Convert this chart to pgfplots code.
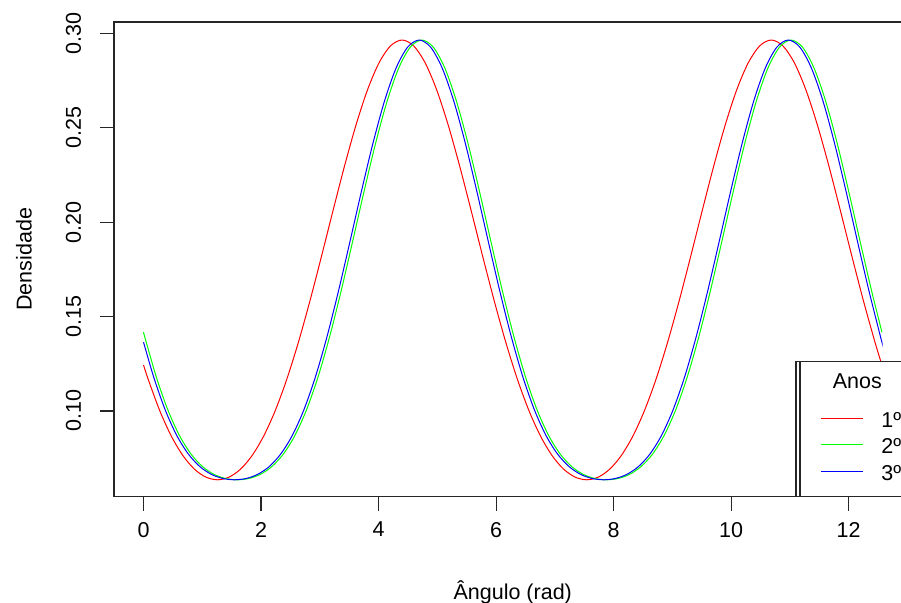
\documentclass[border=0pt]{standalone}
\usepackage{fontspec}
\setmainfont{Liberation Sans}
\usepackage{pgfplots}
\pgfplotsset{compat=1.18}
\definecolor{rred}{RGB}{255,0,0}
\definecolor{rgreen}{RGB}{0,255,0}
\definecolor{rblue}{RGB}{0,0,255}

\begin{document}
\fontsize{10.75}{12.9}\selectfont
\begin{tikzpicture}
\useasboundingbox (0,0) rectangle (450.5pt,301.5pt);
\clip (0,0) rectangle (450.5pt,301.5pt);
\begin{axis}[
  at={(57pt,53.15pt)}, anchor=south west,
  scale only axis, width=398.75pt, height=237.35pt,
  xmin=-0.5027, xmax=13.069, ymin=0.0546, ymax=0.3060,
  axis line style={black!85, line width=0.6pt},
  every tick/.style={black!85, line width=0.6pt},
  tick align=outside, major tick length=7pt,
  tick pos=left,
  xtick={0,2,4,6,8,10,12},
  ytick={0.10,0.15,0.20,0.25,0.30},
  /pgf/number format/assume math mode=true,
  yticklabel style={/pgf/number format/.cd, fixed, fixed zerofill, precision=2, /tikz/.cd,
    rotate=90, anchor=south, inner sep=0pt},
  xticklabel style={anchor=north, inner sep=0pt},
  yticklabel shift=9.25pt,
  xticklabel shift=5.5pt,
  xlabel={Ângulo (rad)},
  ylabel={Densidade},
  every axis x label/.style={at={([yshift=-51.65pt]axis description cs:0.5,0)}, anchor=base, inner sep=0pt},
  every axis y label/.style={at={([xshift=-41.15pt]axis description cs:0,0.5)}, rotate=90, anchor=base, inner sep=0pt},
  legend image code/.code={\draw[#1] (0pt,4.5pt) -- (20.85pt,4.5pt);},
  legend style={name=leg, at={(rel axis cs:0.85517,0)}, anchor=south west,
    draw=none, fill=white,
    inner xsep=12pt, inner ysep=5.95pt, row sep=5.65pt, column sep=9.15pt,
    cells={anchor=base west},
    nodes={inner sep=0pt, text height=7.7pt, text depth=0pt}},
]
\addlegendimage{empty legend}
\addlegendentry[text depth=5.75pt]{\makebox[0pt][l]{\hspace*{-12.5pt}\makebox[0pt]{Anos}}}

% 1º ano
\addplot[color=rred, line width=0.5pt, smooth] coordinates {
(0,0.1243) (0.08031,0.116658) (0.27666,0.100094) (0.47301,0.086657) (0.66936,0.076385)
(0.86571,0.069192) (1.06206,0.064951) (1.25841,0.06355) (1.45476,0.064951) (1.65111,0.069192)
(1.84746,0.076385) (2.04381,0.086657) (2.24016,0.100094) (2.43650,0.116658) (2.63285,0.136119)
(2.82920,0.158) (3.02555,0.181555) (3.22190,0.205786) (3.41825,0.229486) (3.61460,0.251343)
(3.81095,0.270035) (4.00730,0.284364) (4.20365,0.293375) (4.40000,0.29645) (4.59635,0.293375)
(4.79270,0.284364) (4.98905,0.270035) (5.18540,0.251343) (5.38175,0.229486) (5.57810,0.205786)
(5.77445,0.181555) (5.97080,0.158) (6.16715,0.136119) (6.36350,0.116658) (6.55984,0.100094)
(6.75619,0.086657) (6.95254,0.076385) (7.14889,0.069192) (7.34524,0.064951) (7.54159,0.06355)
(7.73794,0.064951) (7.93429,0.069192) (8.13064,0.076385) (8.32699,0.086657) (8.52334,0.100094)
(8.71969,0.116658) (8.91604,0.136119) (9.11239,0.158) (9.30874,0.181555) (9.50509,0.205786)
(9.70144,0.229486) (9.89779,0.251343) (10.09414,0.270035) (10.29049,0.284364) (10.48684,0.293375)
(10.68319,0.29645) (10.87953,0.293375) (11.07588,0.284364) (11.27223,0.270035) (11.46858,0.251343)
(11.66493,0.229486) (11.86128,0.205786) (12.05763,0.181555) (12.25398,0.158) (12.45033,0.136119)
(12.56637,0.1243)
};
\addlegendentry{\makebox[14pt][l]{1º}}

% 2º ano
\addplot[color=rgreen, line width=0.5pt, smooth] coordinates {
(0,0.1417) (0.02261,0.139) (0.21896,0.117842) (0.41531,0.100440) (0.61166,0.086959)
(0.80801,0.077157) (1.00436,0.070520) (1.20071,0.066410) (1.39706,0.064228) (1.59341,0.06355)
(1.78976,0.064228) (1.98611,0.066410) (2.18246,0.070520) (2.37881,0.077157) (2.57516,0.086959)
(2.77150,0.100440) (2.96785,0.117842) (3.16420,0.139) (3.36055,0.163278) (3.55690,0.189568)
(3.75325,0.216351) (3.94960,0.241843) (4.14595,0.264170) (4.34230,0.281582) (4.53865,0.292652)
(4.73500,0.29645) (4.93135,0.292652) (5.12770,0.281582) (5.32405,0.264170) (5.52040,0.241843)
(5.71675,0.216351) (5.91310,0.189568) (6.10945,0.163278) (6.30580,0.139) (6.50215,0.117842)
(6.69850,0.100440) (6.89484,0.086959) (7.09119,0.077157) (7.28754,0.070520) (7.48389,0.066410)
(7.68024,0.064228) (7.87659,0.06355) (8.07294,0.064228) (8.26929,0.066410) (8.46564,0.070520)
(8.66199,0.077157) (8.85834,0.086959) (9.05469,0.100440) (9.25104,0.117842) (9.44739,0.139)
(9.64374,0.163278) (9.84009,0.189568) (10.03644,0.216351) (10.23279,0.241843) (10.42914,0.264170)
(10.62549,0.281582) (10.82184,0.292652) (11.01819,0.29645) (11.21453,0.292652) (11.41088,0.281582)
(11.60723,0.264170) (11.80358,0.241843) (11.99993,0.216351) (12.19628,0.189568) (12.39263,0.163278)
(12.56637,0.1417)
};
\addlegendentry{2º}

% 3º ano
\addplot[color=rblue, line width=0.5pt, smooth] coordinates {
(0,0.1364) (0.17396,0.117842) (0.37031,0.100440) (0.56666,0.086959) (0.76301,0.077157)
(0.95936,0.070520) (1.15571,0.066410) (1.35206,0.064228) (1.54841,0.06355) (1.74476,0.064228)
(1.94111,0.066410) (2.13746,0.070520) (2.33381,0.077157) (2.53016,0.086959) (2.72650,0.100440)
(2.92285,0.117842) (3.11920,0.139) (3.31555,0.163278) (3.51190,0.189568) (3.70825,0.216351)
(3.90460,0.241843) (4.10095,0.264170) (4.29730,0.281582) (4.49365,0.292652) (4.69000,0.29645)
(4.88635,0.292652) (5.08270,0.281582) (5.27905,0.264170) (5.47540,0.241843) (5.67175,0.216351)
(5.86810,0.189568) (6.06445,0.163278) (6.26080,0.139) (6.45715,0.117842) (6.65350,0.100440)
(6.84984,0.086959) (7.04619,0.077157) (7.24254,0.070520) (7.43889,0.066410) (7.63524,0.064228)
(7.83159,0.06355) (8.02794,0.064228) (8.22429,0.066410) (8.42064,0.070520) (8.61699,0.077157)
(8.81334,0.086959) (9.00969,0.100440) (9.20604,0.117842) (9.40239,0.139) (9.59874,0.163278)
(9.79509,0.189568) (9.99144,0.216351) (10.18779,0.241843) (10.38414,0.264170) (10.58049,0.281582)
(10.77684,0.292652) (10.97319,0.29645) (11.16953,0.292652) (11.36588,0.281582) (11.56223,0.264170)
(11.75858,0.241843) (11.95493,0.216351) (12.15128,0.189568) (12.34763,0.163278) (12.54398,0.139)
(12.56637,0.1364)
};
\addlegendentry[text depth=1.95pt]{3º}
\end{axis}
\draw[black!85, line width=0.6pt] (leg.south west) rectangle (leg.north east);
\draw[black!85, line width=0.6pt] ([xshift=2pt]leg.north west) -- ([xshift=2pt]leg.south west);
\end{tikzpicture}
\end{document}
